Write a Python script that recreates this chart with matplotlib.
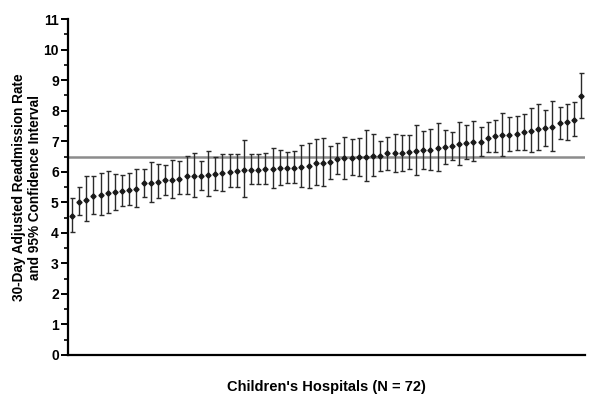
import numpy as np
import matplotlib
matplotlib.use('Agg')
import matplotlib.pyplot as plt
from matplotlib.ticker import MultipleLocator

####### ---- Data (72 hospitals, sorted) ----
rate = [4.55, 5.02, 5.06, 5.20, 5.24, 5.30, 5.33, 5.37, 5.40, 5.44, 5.62, 5.64,
        5.67, 5.73, 5.73, 5.78, 5.86, 5.86, 5.87, 5.91, 5.93, 5.97, 6.00, 6.01,
        6.06, 6.06, 6.07, 6.08, 6.09, 6.12, 6.12, 6.14, 6.16, 6.18, 6.28, 6.30,
        6.32, 6.42, 6.45, 6.46, 6.47, 6.49, 6.51, 6.51, 6.60, 6.60, 6.62, 6.66,
        6.68, 6.70, 6.71, 6.79, 6.81, 6.83, 6.90, 6.94, 6.97, 6.99, 7.10, 7.16,
        7.20, 7.22, 7.25, 7.30, 7.33, 7.41, 7.42, 7.47, 7.59, 7.62, 7.71, 8.47]
ci_low = [4.03, 4.58, 4.38, 4.63, 4.57, 4.66, 4.76, 4.87, 4.90, 4.85, 5.16, 5.01,
          5.15, 5.24, 5.13, 5.27, 5.27, 5.18, 5.40, 5.20, 5.40, 5.38, 5.49, 5.49,
          5.18, 5.60, 5.60, 5.60, 5.46, 5.56, 5.62, 5.64, 5.51, 5.48, 5.57, 5.55,
          5.78, 5.92, 5.78, 5.88, 5.87, 5.70, 5.85, 6.01, 6.06, 6.00, 6.02, 6.08,
          5.88, 6.10, 6.06, 6.03, 6.26, 6.38, 6.21, 6.41, 6.34, 6.52, 6.64, 6.64,
          6.51, 6.68, 6.72, 6.73, 6.64, 6.70, 6.86, 6.69, 7.08, 7.04, 7.16, 7.75]
ci_high = [5.13, 5.49, 5.86, 5.87, 5.97, 6.02, 5.92, 5.89, 5.95, 6.08, 6.10, 6.31,
           6.24, 6.21, 6.40, 6.34, 6.51, 6.60, 6.37, 6.68, 6.49, 6.59, 6.57, 6.57,
           7.04, 6.58, 6.58, 6.62, 6.79, 6.71, 6.65, 6.67, 6.87, 6.93, 7.06, 7.10,
           6.85, 6.93, 7.14, 7.08, 7.11, 7.38, 7.24, 7.02, 7.15, 7.24, 7.22, 7.21,
           7.52, 7.34, 7.40, 7.60, 7.38, 7.30, 7.63, 7.52, 7.65, 7.46, 7.63, 7.70,
           7.93, 7.80, 7.82, 7.89, 8.08, 8.21, 8.01, 8.32, 8.12, 8.21, 8.29, 9.23]
overall_rate = 6.5

####### ---- Plot ----
plt.rcParams['font.family'] = ['Liberation Sans', 'DejaVu Sans']

rate = np.array(rate)
lo = rate - np.array(ci_low)
hi = np.array(ci_high) - rate
hosp = np.arange(len(rate))

fig = plt.figure(figsize=(6.0, 4.08), dpi=100)
ax = fig.add_axes([0.113, 0.13, 0.862, 0.823])

ax.axhline(overall_rate, color='#8c8c8c', linewidth=1.8, zorder=1)
ax.errorbar(hosp, rate, yerr=[lo, hi], fmt='D', color='#1a1a1a', ms=2.6,
            ecolor='#2a2a2a', elinewidth=1.0, capsize=1.8, capthick=1.0, zorder=2)

ax.set_xlim(-0.56, 71.55)
ax.set_ylim(0, 11)
ax.yaxis.set_major_locator(MultipleLocator(1))
ax.yaxis.set_minor_locator(MultipleLocator(0.5))
ax.set_xticks([])

for s in ['top', 'right']:
    ax.spines[s].set_visible(False)
ax.spines['left'].set_linewidth(1.6)
ax.spines['bottom'].set_linewidth(1.6)
ax.tick_params(axis='y', which='major', length=5, width=1.4, labelsize=10, pad=1.5)
ax.tick_params(axis='y', which='minor', length=3, width=1.2)
for t in ax.get_yticklabels():
    t.set_fontweight('bold')

ax.set_ylabel('30-Day Adjusted Readmission Rate\nand 95% Confidence Interval',
              fontweight='bold', fontsize=9.8, labelpad=1, linespacing=1.15)
ax.set_xlabel("Children's Hospitals (N = 72)", fontweight='bold', fontsize=10.5,
              labelpad=18)

fig.savefig('out.png', dpi=100)
